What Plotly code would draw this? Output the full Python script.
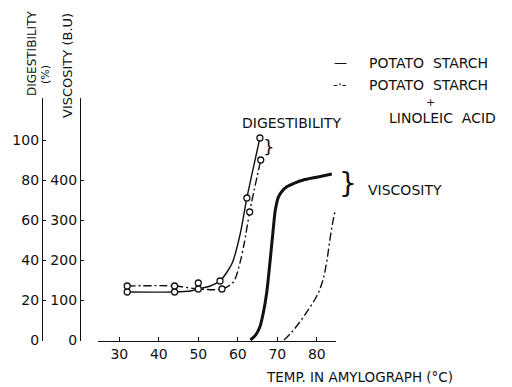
import plotly.graph_objects as go

# ---------------- data ----------------
temp_ticks = [30, 40, 50, 60, 70, 80]
dig_ticks = [0, 20, 40, 60, 80, 100]
visc_ticks = [0, 100, 200, 300, 400]

# Digestibility (%) - potato starch (solid): smooth curve + measured points
dig_ps_curve_T = [32, 44, 48, 50, 53, 55.5, 57.6, 58.7, 60.6, 62.3, 65.6]
dig_ps_curve_D = [24, 24, 24.5, 25.5, 27, 29.5, 35, 39, 53, 71, 101]
dig_ps_pts_T = [32, 44, 50, 55.5, 62.3, 65.6]
dig_ps_pts_D = [24, 24, 28.5, 29.5, 71, 101]

# Digestibility (%) - potato starch + linoleic acid (dash-dot)
dig_la_curve_T = [32, 44, 50, 56, 58.9, 60.6, 61.6, 63, 65.8]
dig_la_curve_D = [27, 27, 25.5, 25.5, 29, 39, 48, 64, 90]
dig_la_pts_T = [32, 44, 50, 56, 63, 65.8]
dig_la_pts_D = [27, 27, 25.5, 25.5, 64, 90]

# Viscosity (B.U.)
visc_ps_T = [63.2, 64.5, 65.6, 66.5, 67.3, 68.2, 69.0, 69.5, 70.3, 71.2, 72.4, 74.5, 76.6, 80, 83.8]
visc_ps_V = [0, 12, 33, 70, 117, 200, 280, 325, 358, 372, 383, 393, 400, 407, 415]
visc_la_T = [71.7, 73.5, 75.7, 78, 80.0, 81.5, 82.5, 83.3, 84.0, 84.7]
visc_la_V = [0, 18, 45, 78, 110, 148, 195, 250, 292, 325]

FONT = "DejaVu Sans"
INK = "#111111"

# layout helpers (pixel -> paper)
ML, MR, MT, MB = 40, 176, 98, 46
W, H = 512, 387
PW = W - ML - MR
PH = H - MT - MB
def px(x):
    return (x - ML) / PW
def py(y):
    return (H - MB - y) / PH

fig = go.Figure()

dash_dot = "8px,3px,2px,3px"

fig.add_trace(go.Scatter(x=dig_ps_curve_T, y=dig_ps_curve_D, mode="lines",
                         line=dict(color=INK, width=1.4, shape="spline", smoothing=0.8),
                         showlegend=False, hoverinfo="skip"))
fig.add_trace(go.Scatter(x=dig_la_curve_T, y=dig_la_curve_D, mode="lines",
                         line=dict(color=INK, width=1.4, dash=dash_dot, shape="spline", smoothing=0.8),
                         showlegend=False, hoverinfo="skip"))
fig.add_trace(go.Scatter(x=dig_ps_pts_T, y=dig_ps_pts_D, mode="markers",
                         marker=dict(symbol="circle", size=6, color="white",
                                     line=dict(color=INK, width=1.3)),
                         showlegend=False))
fig.add_trace(go.Scatter(x=dig_la_pts_T, y=dig_la_pts_D, mode="markers",
                         marker=dict(symbol="circle", size=6, color="white",
                                     line=dict(color=INK, width=1.3)),
                         showlegend=False))
fig.add_trace(go.Scatter(x=visc_ps_T, y=visc_ps_V, mode="lines", yaxis="y2",
                         line=dict(color=INK, width=3, shape="spline", smoothing=0.8),
                         showlegend=False))
fig.add_trace(go.Scatter(x=visc_la_T, y=visc_la_V, mode="lines", yaxis="y2",
                         line=dict(color=INK, width=1.4, dash=dash_dot, shape="spline", smoothing=1.0),
                         showlegend=False))

tickfont = dict(family=FONT, size=14, color=INK)

fig.update_layout(
    width=W, height=H,
    margin=dict(l=ML, r=MR, t=MT, b=MB, pad=0),
    paper_bgcolor="white", plot_bgcolor="white",
    showlegend=False,
    xaxis=dict(domain=[px(98), 1], range=[24.61, 84.86], tickvals=temp_ticks,
               showline=True, linecolor=INK, linewidth=1.2, ticks="inside",
               ticklen=4, tickcolor=INK, tickfont=tickfont, showgrid=False,
               zeroline=False, automargin=False),
    yaxis=dict(range=[-0.5, 121], tickvals=dig_ticks, anchor="free", position=px(42),
               showline=True, linecolor=INK, linewidth=1.2, ticks="inside",
               ticklen=3, tickcolor=INK, tickfont=tickfont, showgrid=False,
               zeroline=False, automargin=False),
    yaxis2=dict(range=[-2.5, 605], tickvals=visc_ticks, overlaying="y", anchor="free",
                position=px(80), side="left",
                showline=True, linecolor=INK, linewidth=1.2, ticks="inside",
                ticklen=3, tickcolor=INK, tickfont=tickfont, showgrid=False,
                zeroline=False, automargin=False),
)

def ann(text, x, y, size=14, angle=0, xanchor="center", yanchor="middle"):
    fig.add_annotation(text=text, x=px(x), y=py(y), xref="paper", yref="paper",
                       showarrow=False, textangle=angle, xanchor=xanchor, yanchor=yanchor,
                       font=dict(family=FONT, size=size, color=INK))

# axis titles
ann("DIGESTIBILITY", 32, 54, size=12, angle=-90)
ann("(%)", 45, 75, size=11, angle=-90)
ann("VISCOSITY (B.U)", 68, 66, size=13, angle=-90)
ann("TEMP. IN AMYLOGRAPH (°C)", 359, 377, size=13.5)

# curve labels
ann("DIGESTIBILITY", 291, 123, size=14)
ann("}", 268, 146, size=18)
ann("}", 348, 183, size=28)
ann("VISCOSITY", 405, 190, size=14)

# legend (text)
ann("—", 340, 62, size=13)
ann("POTATO  STARCH", 367, 63, size=14, xanchor="left")
ann("-·-", 340, 84, size=13)
ann("POTATO  STARCH", 367, 85, size=14, xanchor="left")
ann("+", 430, 102, size=11)
ann("LINOLEIC  ACID", 442, 118, size=14)

fig.write_html("out.html")
